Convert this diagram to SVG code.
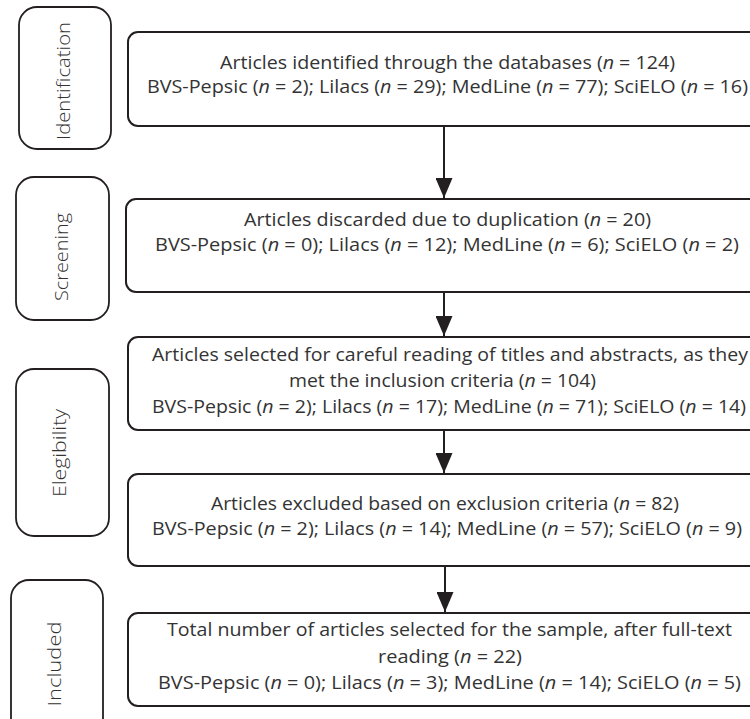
<svg xmlns="http://www.w3.org/2000/svg" width="750" height="719" viewBox="0 0 750 719">
<defs>
<style>
.stage{fill:#fff;stroke:#231f20;stroke-width:1.8}
.box{fill:#fff;stroke:#231f20;stroke-width:2}
.lbl{font-family:"Open Sans","Noto Sans",sans-serif;font-size:18px;font-weight:300;fill:#333;text-anchor:middle}
.t{font-family:"Open Sans","Noto Sans",sans-serif;font-size:18px;fill:#333}
.i{font-style:italic}
.conn{stroke:#231f20;stroke-width:2;fill:none}
</style>
<marker id="ah" viewBox="0 0 20 17" refX="20" refY="8.5" markerWidth="20" markerHeight="17" markerUnits="userSpaceOnUse" orient="auto">
<path d="M0,0 L20,8.5 L0,17 Z" fill="#231f20"/>
</marker>
</defs>
<rect width="750" height="719" fill="#fff"/>

<g id="stage-identification">
<rect class="stage" x="19" y="7" width="92" height="142" rx="18"/>
<text class="lbl" transform="translate(70,81) rotate(-90)" textLength="118" lengthAdjust="spacingAndGlyphs">Identification</text>
</g>
<g id="stage-screening">
<rect class="stage" x="16" y="177" width="93" height="143" rx="18"/>
<text class="lbl" transform="translate(68,257) rotate(-90)" textLength="88" lengthAdjust="spacingAndGlyphs">Screening</text>
</g>
<g id="stage-elegibility">
<rect class="stage" x="16" y="369" width="93" height="167" rx="18"/>
<text class="lbl" transform="translate(66,453) rotate(-90)" textLength="88" lengthAdjust="spacingAndGlyphs">Elegibility</text>
</g>
<g id="stage-included">
<rect class="stage" x="11" y="580" width="92" height="160" rx="18"/>
<text class="lbl" transform="translate(61,664) rotate(-90)" textLength="85" lengthAdjust="spacingAndGlyphs">Included</text>
</g>

<g id="box-identified">
<rect class="box" x="128" y="32" width="660" height="94" rx="10"/>
<text class="t" x="220" y="69" textLength="455" lengthAdjust="spacingAndGlyphs">Articles identified through the databases (<tspan class="i">n</tspan> = 124)</text>
<text class="t" x="147" y="93" textLength="601" lengthAdjust="spacingAndGlyphs">BVS-Pepsic (<tspan class="i">n</tspan> = 2); Lilacs (<tspan class="i">n</tspan> = 29); MedLine (<tspan class="i">n</tspan> = 77); SciELO (<tspan class="i">n</tspan> = 16)</text>
</g>
<g id="box-duplicates">
<rect class="box" x="126" y="199" width="662" height="93" rx="10"/>
<text class="t" x="244" y="226" textLength="407" lengthAdjust="spacingAndGlyphs">Articles discarded due to duplication  (<tspan class="i">n</tspan> = 20)</text>
<text class="t" x="155" y="251" textLength="584" lengthAdjust="spacingAndGlyphs">BVS-Pepsic (<tspan class="i">n</tspan> = 0); Lilacs (<tspan class="i">n</tspan> = 12); MedLine (<tspan class="i">n</tspan> = 6); SciELO (<tspan class="i">n</tspan> = 2)</text>
</g>
<g id="box-selected">
<rect class="box" x="128" y="337" width="660" height="93" rx="10"/>
<text class="t" x="152" y="361" textLength="596" lengthAdjust="spacingAndGlyphs">Articles selected for careful reading of titles and abstracts, as they</text>
<text class="t" x="289" y="387" textLength="307" lengthAdjust="spacingAndGlyphs">met the inclusion criteria   (<tspan class="i">n</tspan> = 104)</text>
<text class="t" x="152" y="413" textLength="594" lengthAdjust="spacingAndGlyphs">BVS-Pepsic (<tspan class="i">n</tspan> = 2); Lilacs (<tspan class="i">n</tspan> = 17); MedLine (<tspan class="i">n</tspan> = 71); SciELO (<tspan class="i">n</tspan> = 14)</text>
</g>
<g id="box-excluded">
<rect class="box" x="128" y="474" width="660" height="92" rx="10"/>
<text class="t" x="211" y="510" textLength="468" lengthAdjust="spacingAndGlyphs">Articles excluded based on exclusion criteria  (<tspan class="i">n</tspan> = 82)</text>
<text class="t" x="152" y="535" textLength="590" lengthAdjust="spacingAndGlyphs">BVS-Pepsic (<tspan class="i">n</tspan> = 2); Lilacs (<tspan class="i">n</tspan> = 14); MedLine (<tspan class="i">n</tspan> = 57); SciELO (<tspan class="i">n</tspan> = 9)</text>
</g>
<g id="box-included">
<rect class="box" x="128" y="613" width="660" height="93" rx="10"/>
<text class="t" x="167" y="636" textLength="565" lengthAdjust="spacingAndGlyphs">Total number of articles selected for the sample, after full-text</text>
<text class="t" x="378" y="663" textLength="144" lengthAdjust="spacingAndGlyphs">reading  (<tspan class="i">n</tspan> = 22)</text>
<text class="t" x="158" y="689" textLength="583" lengthAdjust="spacingAndGlyphs">BVS-Pepsic (<tspan class="i">n</tspan> = 0); Lilacs (<tspan class="i">n</tspan> = 3); MedLine (<tspan class="i">n</tspan> = 14); SciELO (<tspan class="i">n</tspan> = 5)</text>
</g>

<g id="connectors">
<line class="conn" x1="444" y1="126" x2="444" y2="198" marker-end="url(#ah)"/>
<line class="conn" x1="444" y1="292" x2="444" y2="336" marker-end="url(#ah)"/>
<line class="conn" x1="444" y1="430" x2="444" y2="473" marker-end="url(#ah)"/>
<line class="conn" x1="445" y1="566" x2="445" y2="612" marker-end="url(#ah)"/>
</g>
</svg>
